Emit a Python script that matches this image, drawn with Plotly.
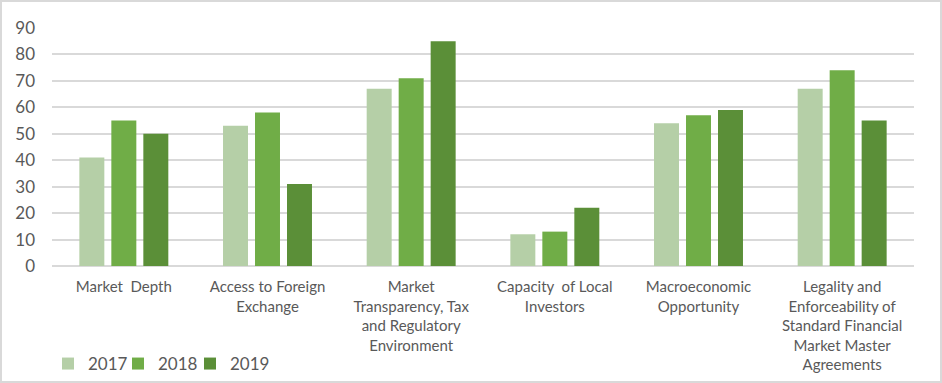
import plotly.graph_objects as go

categories = [
    "Market\u00a0 Depth",
    "Access to Foreign<br>Exchange",
    "Market<br>Transparency, Tax<br>and Regulatory<br>Environment",
    "Capacity\u00a0 of Local<br>Investors",
    "Macroeconomic<br>Opportunity",
    "Legality and<br>Enforceability of<br>Standard Financial<br>Market Master<br>Agreements",
]
years = ["2017", "2018", "2019"]
values_2017 = [41, 53, 67, 12, 54, 67]
values_2018 = [55, 58, 71, 13, 57, 74]
values_2019 = [50, 31, 85, 22, 59, 55]
colors = ["#b5cfa7", "#70ad47", "#5b8f38"]

W, H = 942, 383
ml, mr, mt, mb = 52, 28, 28, 117
pw, ph = W - ml - mr, H - mt - mb

legend_ids = ["legend", "legend2", "legend3"]
legend_px = [48, 118, 190]

fig = go.Figure()
for name, vals, c, lid in zip(years, [values_2017, values_2018, values_2019], colors, legend_ids):
    fig.add_trace(go.Bar(x=categories, y=vals, name=name, legend=lid,
                         marker=dict(color=c, line=dict(width=0))))

font = "Lato, Calibri, Carlito, sans-serif"
legend_y = -(364 - (mt + ph)) / ph
legends = {}
for lid, px in zip(legend_ids, legend_px):
    legends[lid] = dict(orientation="h", x=(px - ml) / pw, xanchor="left",
                        y=legend_y, yanchor="middle",
                        font=dict(size=17, color="#595959"),
                        bgcolor="rgba(0,0,0,0)")

fig.update_layout(
    width=W, height=H,
    margin=dict(l=ml, r=mr, t=mt, b=mb, pad=0, autoexpand=False),
    paper_bgcolor="white", plot_bgcolor="white",
    barmode="group", bargap=0.332, bargroupgap=0.219,
    font=dict(family=font, color="#595959", size=15),
    showlegend=True,
    xaxis=dict(showgrid=False, showline=False, ticks="", tickangle=0, automargin=False,
               tickfont=dict(size=15, color="#595959"), ticklabelstandoff=10),
    yaxis=dict(range=[0, 90], dtick=10, showgrid=True, gridcolor="#d9d9d9", gridwidth=1.6,
               zeroline=True, zerolinecolor="#d9d9d9", zerolinewidth=1.6, automargin=False,
               showline=False, ticks="", tickfont=dict(size=17, color="#595959"),
               ticklabelstandoff=16),
    shapes=[dict(type="rect", xref="paper", yref="paper",
                 x0=(1 - ml) / pw, x1=(W - 1 - ml) / pw,
                 y0=-(mb - 1) / ph, y1=1 + (mt - 1) / ph,
                 line=dict(color="#d9d9d9", width=2), fillcolor="rgba(0,0,0,0)", layer="below")],
    **legends,
)
fig.write_html("out.html", config={"displayModeBar": False},
               post_script="document.body.style.margin='0';document.body.style.overflow='hidden';")
